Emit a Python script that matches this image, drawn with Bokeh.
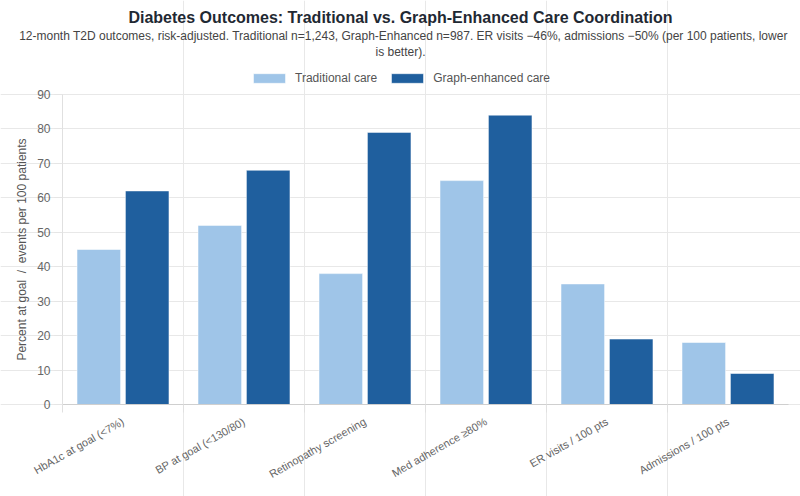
import numpy as np
from bokeh.plotting import figure
from bokeh.models import (Range1d, FixedTicker, Label, Legend, LegendItem, Grid,
                          ColumnDataSource)
from bokeh.transform import dodge
from bokeh.embed import file_html
from bokeh.resources import INLINE

# ---- data ----
categories = ["HbA1c at goal (<7%)", "BP at goal (<130/80)", "Retinopathy screening",
              "Med adherence \u226580%", "ER visits / 100 pts", "Admissions / 100 pts"]
traditional = [45, 52, 38, 65, 35, 18]
graph_enhanced = [62, 68, 79, 84, 19, 9]
series_names = ["Traditional care", "Graph-enhanced care"]
y_ticks = [0, 10, 20, 30, 40, 50, 60, 70, 80, 90]

title_text = "Diabetes Outcomes: Traditional vs. Graph-Enhanced Care Coordination"
subtitle_lines = ["12-month T2D outcomes, risk-adjusted. Traditional n=1,243, Graph-Enhanced n=987. "
                  "ER visits \u221246%, admissions \u221250% (per 100 patients, lower",
                  "is better)."]
y_label = "Percent at goal \u00a0/\u00a0 events per 100 patients"

FONT = "Liberation Sans"
LIGHT = "#9fc5e8"
DARK = "#1f5f9e"

# ---- layout geometry (canvas pixels) ----
W, H = 800, 496
PL, PR, PT, PB = 62, 788, 94, 404          # plot area in canvas pixels
n = len(categories)
y_max = y_ticks[-1]
xs = (PR - PL) / n                          # px per category
ys = (PB - PT) / y_max                      # px per unit
x_lo, x_hi = -0.5, n - 0.5
x_start = x_lo - PL / xs
x_end = x_hi + (W - PR) / xs
y_start = 0 - (H - PB) / ys
y_end = y_max + PT / ys

idx = np.arange(n)
src = ColumnDataSource(dict(x=idx, trad=traditional, graph=graph_enhanced))

p = figure(width=W, height=H, output_backend="svg", toolbar_location=None,
           x_range=Range1d(x_start, x_end), y_range=Range1d(y_start, y_end),
           min_border=0)
p.outline_line_color = None
p.background_fill_color = "white"
p.border_fill_color = "white"

r1 = p.vbar(x=dodge("x", -0.2), top="trad", width=0.36, source=src, fill_color=LIGHT,
            line_color="white", line_alpha=0.5, line_width=1)
r2 = p.vbar(x=dodge("x", 0.2), top="graph", width=0.36, source=src, fill_color=DARK,
            line_color="white", line_alpha=0.5, line_width=1)

# grids
p.xgrid.visible = False
p.ygrid.grid_line_color = "#e8e8e8"
p.ygrid.ticker = FixedTicker(ticks=y_ticks)
p.ygrid.bounds = (x_lo, x_hi)
vgrid = Grid(dimension=0, ticker=FixedTicker(ticks=list(idx[:-1] + 0.5)),
             grid_line_color="#e8e8e8", bounds=(0, y_max))
p.add_layout(vgrid)

# axes placed at fixed data locations inside the full-canvas frame
xa = p.xaxis[0]
xa.fixed_location = 0
xa.bounds = (x_lo, x_hi)
xa.ticker = FixedTicker(ticks=list(idx), minor_ticks=list(idx - 0.5))
xa.major_label_overrides = {int(i): c for i, c in zip(idx, categories)}
xa.major_label_orientation = 0.52
xa.major_tick_line_color = None
xa.minor_tick_out = 8
xa.minor_tick_in = 0
xa.minor_tick_line_color = "#e0e0e0"
xa.axis_line_color = "#cfcfcf"
xa.major_label_text_font = FONT
xa.major_label_text_font_size = "11px"
xa.major_label_text_color = "#666666"
xa.major_label_standoff = 8

ya = p.yaxis[0]
ya.fixed_location = x_lo
ya.bounds = (0, y_max)
ya.ticker = FixedTicker(ticks=y_ticks)
ya.major_tick_out = 8
ya.major_tick_in = 0
ya.major_tick_line_color = "#e5e5e5"
ya.minor_tick_line_color = None
ya.axis_line_color = "#e0e0e0"
ya.major_label_text_font = FONT
ya.major_label_text_font_size = "12px"
ya.major_label_text_color = "#666666"
ya.major_label_standoff = 4
ya.axis_label = y_label
ya.axis_label_text_font = FONT
ya.axis_label_text_font_size = "12px"
ya.axis_label_text_font_style = "normal"
ya.axis_label_text_color = "#555555"
ya.axis_label_standoff = 5

# title / subtitle (screen units: from frame bottom-left, frame == canvas)
p.add_layout(Label(x=W / 2, y=H - 17, x_units="screen", y_units="screen", text=title_text,
                   text_align="center", text_baseline="middle", text_font=FONT,
                   text_font_size="16px", text_font_style="bold", text_color="#1f2933"))
for k, line in enumerate(subtitle_lines):
    p.add_layout(Label(x=W / 2 + 3 * (k == 0), y=H - 35 - 16 * k, x_units="screen",
                       y_units="screen", text=line, text_align="center",
                       text_baseline="middle", text_font=FONT, text_font_size="12px",
                       text_color="#444444"))

legend = Legend(items=[LegendItem(label=series_names[0], renderers=[r1]),
                       LegendItem(label=series_names[1], renderers=[r2])],
                orientation="horizontal", location=(249, H - 85),
                glyph_width=40, glyph_height=12, label_height=12, label_standoff=6,
                spacing=10, padding=0, margin=0, border_line_color=None,
                background_fill_alpha=0, label_text_font=FONT,
                label_text_font_size="12px", label_text_color="#555555",
                label_text_baseline="middle")
p.add_layout(legend)

open("out.html", "w").write(file_html(p, INLINE))
